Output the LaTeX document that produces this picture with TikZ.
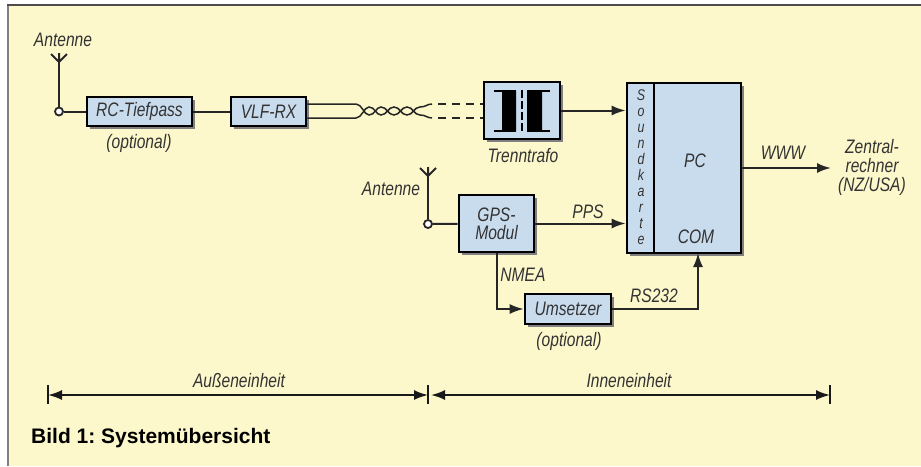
\documentclass[tikz,border=0pt]{standalone}
\usepackage{fontspec}
\usepackage{tikz}
\usetikzlibrary{arrows.meta,shadows}
\setmainfont{Liberation Sans}[FakeStretch=0.8]
\newfontfamily\captionfont{Liberation Sans}
\definecolor{paper}{HTML}{FDF8CB}
\definecolor{boxblue}{HTML}{C9DCEE}
\frenchspacing
\tikzset{
    block/.style={draw=black,line width=2.6pt,fill=boxblue,minimum height=29pt,align=center,
        font=\fontsize{19.5}{18}\selectfont\itshape,text=black!80,
        drop shadow={shadow xshift=2.5pt,shadow yshift=-2.5pt,fill=black!50,opacity=1}},
    lbl/.style={font=\fontsize{19.5}{19}\selectfont\itshape,text=black!80,align=center,inner sep=0pt},
    conn/.style={line width=2pt,black!85},
    arr/.style={conn,-{Latex[length=14pt,width=10pt]}},
    span/.style={line width=1.8pt,{Latex[length=14pt,width=10pt]}-{Latex[length=14pt,width=10pt]},black!90},
    tick/.style={line width=1.8pt,black!90},
    port/.style={circle,draw=black!85,line width=1.8pt,fill=white,inner sep=0pt,minimum size=8pt},
}
\begin{document}
\begin{tikzpicture}[x=1pt,y=-1pt]
    \useasboundingbox (0,0) rectangle (921,466);
    \fill[white] (0,0) rectangle (921,466);
    \fill[paper] (8,6) rectangle (921,466);
    \draw[black!50,line width=2pt] (8,466) -- (8,5);
    \draw[black!70,line width=2pt] (7,5) -- (921,5);

    \node[port] (ant1) at (59,111.5) {};
    \coordinate (ant1top) at (59,62);
    \draw[conn] (ant1) -- (ant1top);
    \draw[conn] (51,54) -- (ant1top) -- (67,54) (ant1top) -- +(0,-9);
    \node[lbl] (ant1lbl) at (63,40) {Antenne};

    \node[block,minimum width=105pt] (rc) at (139.5,111.5) {RC-Tiefpass};
    \node[block,minimum width=75pt] (vlf) at (268.5,111.5) {VLF-RX};
    \node[lbl] (rcopt) at (139,143) {(optional)};
    \draw[conn] (ant1) -- (rc);
    \draw[conn] (rc) -- (vlf);

    \coordinate (vlfup) at (vlf.east |- 0,104);
    \coordinate (vlflow) at (vlf.east |- 0,118);
    \coordinate (dashup) at (432,104);
    \coordinate (dashlow) at (432,118);
    \draw[conn,line width=1.5pt] (vlfup) -- (356,104)
        .. controls (362,104) and (364,115) .. (369,115)
        .. controls (375,115) and (376,107) .. (381,107)
        .. controls (387,107) and (388,115) .. (394,115)
        .. controls (400,115) and (401,107) .. (407,107)
        .. controls (413,107) and (414,115) .. (420,115)
        .. controls (426,115) and (427,118) .. (dashlow);
    \draw[conn,line width=1.5pt] (vlflow) -- (356,118)
        .. controls (362,118) and (364,107) .. (369,107)
        .. controls (375,107) and (376,115) .. (381,115)
        .. controls (387,115) and (388,107) .. (394,107)
        .. controls (400,107) and (401,115) .. (407,115)
        .. controls (413,115) and (414,107) .. (420,107)
        .. controls (426,107) and (427,104) .. (dashup);

    \node[block,minimum width=76pt,minimum height=57pt] (trafo) at (522,110.5) {};
    \draw[conn,dash pattern=on 8pt off 6pt] (dashup) ++(6,0) -- (trafo.west |- dashup);
    \draw[conn,dash pattern=on 8pt off 6pt] (dashlow) ++(6,0) -- (trafo.west |- dashlow);
    \fill[black] (502,91) rectangle (516,131) (527,91) rectangle (542,131);
    \draw[line width=1.6pt] (494,91) -- (516,91) (527,91) -- (550,91) (494,131) -- (516,131) (527,131) -- (550,131);
    \draw[line width=1.6pt,dash pattern=on 8pt off 3pt] (522,90) -- (522,132);
    \node[lbl] (trafolbl) at (523,156) {Trenntrafo};

    \node[block,minimum width=114pt,minimum height=170pt] (pc) at (684,168) {};
    \draw[line width=1.2pt] (654,83) -- (654,253);
    \node[lbl,font=\fontsize{15.5}{16}\selectfont\itshape] (sound) at (641,167.5) {S\\o\\u\\n\\d\\k\\a\\r\\t\\e};
    \node[lbl] (pclbl) at (695,161) {PC};
    \node[lbl] (comlbl) at (696,237) {COM};
    \draw[arr] (trafo.east) -- (trafo.east -| pc.west);

    \coordinate (wwwend) at (831,168);
    \draw[arr] (pc.east) -- (wwwend);
    \node[lbl] (wwwlbl) at (783,153) {WWW};
    \node[lbl] (zentral) at (872,167) {Zentral-\\rechner\\(NZ/USA)};

    \node[port] (ant2) at (428,224) {};
    \coordinate (ant2top) at (428,176);
    \draw[conn] (ant2) -- (ant2top);
    \draw[conn] (420,168) -- (ant2top) -- (436,168) (ant2top) -- +(0,-9);
    \node[lbl] (ant2lbl) at (391,189) {Antenne};

    \node[block,minimum width=75pt,minimum height=57pt] (gps) at (496.5,223.5) {GPS-\\Modul};
    \draw[conn] (ant2) -- (gps);
    \draw[arr] (gps.east) -- (gps.east -| pc.west);
    \node[lbl] (ppslbl) at (588,212) {PPS};

    \node[block,minimum width=86pt,minimum height=30pt] (ums) at (568,309) {Umsetzer};
    \node[lbl] (umsopt) at (569,341) {(optional)};
    \draw[arr] (gps.south) |- (ums.west);
    \node[lbl] (nmealbl) at (523,275) {NMEA};
    \coordinate (comin) at (698,253);
    \draw[arr] (ums.east) -| (comin);
    \node[lbl] (rslbl) at (654,296) {RS232};

    \coordinate (outerl) at (48,395);
    \coordinate (outerr) at (428,395);
    \coordinate (innerl) at (431,395);
    \coordinate (innerr) at (830,395);
    \draw[tick] (outerl) +(0,-10) -- +(0,9);
    \draw[tick] (outerr) +(0,-10) -- +(0,9);
    \draw[tick] (innerr) +(0,-10) -- +(0,9);
    \draw[span] (outerl) -- (outerr);
    \draw[span] (innerl) -- (innerr);
    \node[lbl] (aussen) at (239,381) {Außeneinheit};
    \node[lbl] (innen) at (629,381) {Inneneinheit};

    \node[anchor=west,inner sep=0pt,font=\fontsize{21}{22}\selectfont\captionfont\bfseries] (title) at (31,438) {Bild 1: Systemübersicht};
\end{tikzpicture}
\end{document}
